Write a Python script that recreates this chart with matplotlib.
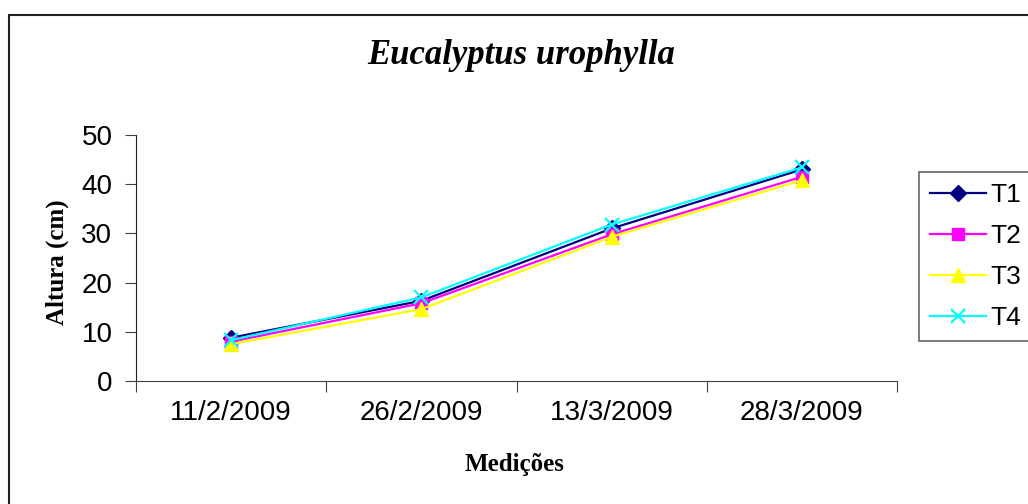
import matplotlib.pyplot as plt
from matplotlib.patches import Rectangle

datas = ['11/2/2009', '26/2/2009', '13/3/2009', '28/3/2009']
t1 = [8.8, 16.3, 31.0, 43.0]
t2 = [8.0, 15.8, 29.8, 41.5]
t3 = [7.5, 14.6, 29.3, 40.8]
t4 = [8.3, 17.0, 31.8, 43.4]

plt.rcParams['font.family'] = 'Liberation Sans'

fig = plt.figure(figsize=(10.28, 5.04), dpi=100)
ax = fig.add_axes([136/1028, 123/504, 761/1028, 246/504])

x = [0.5, 1.5, 2.5, 3.5]
ax.plot(x, t1, color='#000080', marker='D', markersize=8, lw=1.6, label='T1')
ax.plot(x, t2, color='#FF00FF', marker='s', markersize=8.5, lw=1.6, label='T2')
ax.plot(x, t3, color='#FFFF00', marker='^', markersize=10, lw=1.6, label='T3')
ax.plot(x, t4, color='#00FFFF', marker='x', markersize=10, mew=1.6, lw=1.6, label='T4')

ax.set_xlim(0, 4)
ax.set_ylim(0, 50)
ax.set_yticks(range(0, 51, 10))
ax.set_xticks(range(5))
ax.set_xticklabels([])
ax.set_xticks(x, minor=True)
ax.set_xticklabels(datas, minor=True)
ax.tick_params(axis='x', which='major', direction='out', length=8, color='#404040')
ax.tick_params(axis='x', which='minor', length=0, pad=14, labelsize=20)
ax.tick_params(axis='y', direction='out', length=8, pad=9, labelsize=20, color='#404040')
for s in ['top', 'right']:
    ax.spines[s].set_visible(False)
ax.spines['left'].set_color('#202020')
ax.spines['bottom'].set_color('#404040')

fig.text(521/1028, 1 - 55/504, 'Eucalyptus urophylla', family='Liberation Serif',
         style='italic', weight='bold', fontsize=25, ha='center', va='center')
fig.text(57/1028, 1 - 262/504, 'Altura (cm)', family='Liberation Serif', weight='bold',
         fontsize=18, rotation=90, ha='center', va='center')
fig.text(515/1028, 1 - 465/504, 'Medições', family='Liberation Serif', weight='bold',
         fontsize=18, ha='center', va='center')

leg = fig.legend(loc='upper left', bbox_to_anchor=(919/1028, 1 - 172/504), fontsize=19,
                 frameon=True, fancybox=False, edgecolor='#404040', handlelength=2.1,
                 labelspacing=0.64, borderpad=0.42, handletextpad=0.2, borderaxespad=0)
leg.get_frame().set_linewidth(1.2)

fig.patches.append(Rectangle((9/1028, -0.1), 1.1, 0.1 + 489/504, transform=fig.transFigure,
                             fill=False, edgecolor='#202020', lw=1.5, clip_on=False))

fig.savefig('out.png', dpi=100)
